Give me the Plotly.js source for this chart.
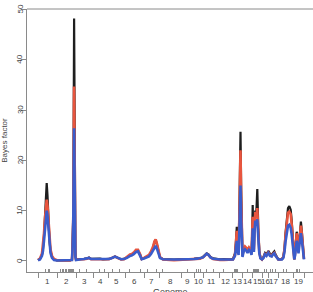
<!DOCTYPE html>
<html>
<head>
<meta charset="utf-8">
<script src="https://cdn.plot.ly/plotly-3.0.1.min.js"></script>
<style>html,body{margin:0;padding:0;background:#fff;}#chart{width:313px;height:292px;}</style>
</head>
<body>
<div id="chart"></div>
<script>
// ---- data ----
const chromosomes = ['1','2','3','4','5','6','7','8','9','10','11','12','13','14','15','16','17','18','19'];
// cumulative genome coordinates of chromosome boundaries
const chrBoundaries = [110,300,490,660,810,980,1170,1320,1540,1670,1760,1920,2050,2150,2250,2350,2410,2510,2660,2770];
// marker positions (rug)
const markerPositions = [180,210,225,330,350,365,380,395,410,420,430,440,450,460,520,590,720,770,850,920,1020,1130,1200,1290,1350,1600,1690,1710,1730,1790,1860,1960,2070,2080,2090,2100,2200,2260,2270,2280,2290,2300,2310,2370,2390,2430,2450,2480,2560,2590,2690,2700,2720];

const genomePos = [110,130,150,160,170,180,190,197,205,215,225,235,250,270,300,
  330,380,430,450,457,463,471,478,484,490,
  510,540,570,600,620,640,670,700,730,760,790,820,850,880,910,940,970,1000,1030,1050,1070,1090,1110,1130,1147,1170,1197,1220,1240,1260,1275,1287,1300,1315,1330,1360,
  1390,1430,1470,1510,1550,1590,1630,1670,1700,1730,1760,1780,1797,1815,1835,1860,1890,1930,1970,2010,2040,
  2060,2080,2090,2098,2108,2116,2125,2135,2142,2148,2155,
  2165,2180,2195,2205,2220,2235,2245,
  2250,2257,2263,2269,2276,2283,2292,2303,2313,2323,2335,2350,
  2365,2380,2395,2413,2430,2447,2460,2473,2485,2497,2513,
  2530,2550,2563,2575,2585,2597,2610,2623,2637,2647,2657,2665,2673,
  2680,2688,2697,2706,2715,2723,2732,2739,2748,2758,2770];

const bfBlack = [0.2,0.4,1.2,2.5,5.0,9.0,13.5,15.5,13.0,8.0,4.0,2.0,0.8,0.3,0.1,
  0.1,0.1,0.1,0.3,3.5,9,48.2,15,1.5,0.3,
  0.3,0.35,0.4,0.5,0.7,0.4,0.4,0.35,0.45,0.3,0.35,0.4,0.6,0.9,0.6,0.35,0.4,0.7,1.1,1.2,1.5,1.9,2.0,1.3,0.4,0.6,0.9,1.0,1.6,2.6,3.8,4.2,3.2,1.6,0.7,0.35,
  0.3,0.3,0.25,0.3,0.3,0.3,0.3,0.4,0.5,0.5,0.8,1.2,1.5,1.3,0.8,0.5,0.4,0.3,0.35,0.3,0.3,
  0.4,1.5,4,6.8,3.0,2.5,12,25.7,14,3,1.0,
  2.0,2.6,2.3,1.8,2.5,2.0,1.5,
  4,11.1,5,2.6,8,10,9,14.3,6.5,2,0.6,0.3,
  0.8,1.6,1.3,2.0,1.4,1.2,1.6,1.9,1.3,0.8,0.3,
  0.3,0.4,0.8,2.5,5.5,8.5,10.5,10.9,10.2,8.0,4.5,1.2,0.3,
  1.5,4.5,5.8,4.5,2.5,4.0,7.0,7.8,6.0,2.5,0.4];

const bfRed = [0.2,0.5,1.5,3.0,5.5,8.5,11.5,12.2,11.0,7.5,4.5,2.3,1.0,0.4,0.15,
  0.1,0.1,0.1,0.3,3.6,9,34.7,12,1.2,0.3,
  0.3,0.3,0.35,0.45,0.6,0.35,0.35,0.3,0.4,0.3,0.3,0.35,0.6,0.85,0.55,0.3,0.35,0.8,1.3,1.4,1.7,2.2,2.2,1.4,0.4,0.6,1.0,1.2,1.9,2.8,3.9,4.3,3.4,1.8,0.8,0.3,
  0.2,0.2,0.15,0.2,0.25,0.2,0.25,0.3,0.4,0.45,0.7,1.1,1.4,1.2,0.7,0.4,0.3,0.2,0.2,0.2,0.2,
  0.3,1.2,3.5,6.0,2.7,2.2,10,22.0,12,2.5,1.2,
  2.3,2.9,2.6,2.1,2.7,2.3,1.6,
  3.5,8.8,4,2.3,7.5,9.7,8.5,10.5,5.5,1.8,0.6,0.3,
  0.7,1.4,1.2,1.7,1.2,1.0,1.4,1.6,1.1,0.7,0.3,
  0.3,0.4,0.8,2.3,5.0,7.8,9.6,9.8,9.3,7.2,4.0,1.0,0.3,
  1.3,4.5,5.5,4.2,2.3,3.8,6.5,7.0,5.5,2.3,0.4];

const bfBlue = [0.1,0.3,1.0,2.0,4.0,6.5,9.2,10.0,9.0,6.0,3.3,1.6,0.6,0.2,0.1,
  0.1,0.1,0.1,0.2,3.0,8.5,26.4,9,0.8,0.2,
  0.3,0.35,0.4,0.5,0.6,0.4,0.4,0.35,0.4,0.3,0.35,0.4,0.6,0.85,0.6,0.35,0.4,0.6,1.0,1.1,1.4,1.8,1.9,1.2,0.35,0.5,0.8,0.9,1.4,2.2,2.8,3.0,2.4,1.3,0.6,0.35,
  0.3,0.3,0.3,0.3,0.3,0.3,0.3,0.4,0.45,0.5,0.7,1.1,1.45,1.2,0.7,0.45,0.35,0.3,0.3,0.3,0.25,
  0.3,1.0,2.5,4.0,1.8,1.2,7,15.0,8,1.5,0.8,
  1.8,2.3,2.0,1.6,2.2,1.9,1.2,
  2.5,6.5,3,1.8,6,8,7,8.3,4.5,1.5,0.5,0.3,
  0.6,1.3,1.0,1.6,1.0,0.9,1.3,1.5,1.0,0.6,0.3,
  0.3,0.3,0.6,1.8,3.8,5.8,7.0,7.2,6.6,5.2,3.0,0.8,0.3,
  1.0,3.3,4.0,3.0,1.5,3.0,5.0,5.5,4.2,1.8,0.3];

const yTicks = [0,10,20,30,40,50];

// ---- chart ----
const chrCenters = chromosomes.map((c,i)=> (chrBoundaries[i]+chrBoundaries[i+1])/2);
const lineStyle = (color,w)=>({color:color,width:w,shape:'linear'});
const traces = [
  {x:genomePos,y:bfBlack,type:'scatter',mode:'lines',line:lineStyle('#1e1e1e',2.2),hoverinfo:'skip'},
  {x:genomePos,y:bfRed,type:'scatter',mode:'lines',line:lineStyle('#E8553E',2.6),hoverinfo:'skip'},
  {x:genomePos,y:bfBlue,type:'scatter',mode:'lines',line:lineStyle('#3A5CCB',2.6),hoverinfo:'skip'}
];
const axisGray = '#8a8a8a';
const xLabelAnn = chromosomes.map((c,i)=>({
  text:c, x:chrCenters[i], xref:'x', y:0, yref:'paper', yanchor:'top', xanchor:'center',
  yshift:-4, showarrow:false, font:{size:8,color:'#444'}, borderpad:0
}));
const yLabelAnn = yTicks.map(v=>({
  text:String(v), x:0, xref:'paper', y:v, yref:'y', xanchor:'center', yanchor:'middle',
  xshift:-7, textangle:-90, showarrow:false, font:{size:8,color:'#444'}, borderpad:0
}));
const titleAnn = [{
  text:'Genome', x:0.5, xref:'paper', y:0, yref:'paper', xanchor:'center', yanchor:'top',
  yshift:-14, showarrow:false, font:{size:9,color:'#444'}, borderpad:0
}];
const layout = {
  width:313,height:292,
  margin:{l:27,r:0,t:9,b:20,pad:0},
  paper_bgcolor:'#fff',plot_bgcolor:'#fff',
  font:{family:'Liberation Sans, Arial, sans-serif',size:8,color:'#444'},
  showlegend:false,
  xaxis:{range:[0,2860],showline:true,linecolor:axisGray,linewidth:1,
    tickvals:markerPositions,ticks:'inside',ticklen:3,tickcolor:axisGray,tickwidth:1,
    showticklabels:false,showgrid:false,zeroline:false,automargin:false,
    minor:{tickvals:chrBoundaries,ticks:'outside',ticklen:5,tickcolor:axisGray,tickwidth:1,showgrid:false}},
  yaxis:{range:[-2.2,50.1],showline:true,linecolor:axisGray,linewidth:1,ticks:'outside',ticklen:5,
    tickcolor:axisGray,tickvals:yTicks,showticklabels:false,
    showgrid:false,zeroline:false,automargin:false,
    title:{text:'Bayes factor',font:{size:8,color:'#444'},standoff:12}},
  annotations:xLabelAnn.concat(yLabelAnn,titleAnn),
  shapes:[{type:'line',xref:'paper',yref:'paper',x0:0,x1:1,y0:1,y1:1,line:{color:axisGray,width:1}}]
};
Plotly.newPlot('chart',traces,layout,{staticPlot:true,displayModeBar:false});
</script>
</body>
</html>
